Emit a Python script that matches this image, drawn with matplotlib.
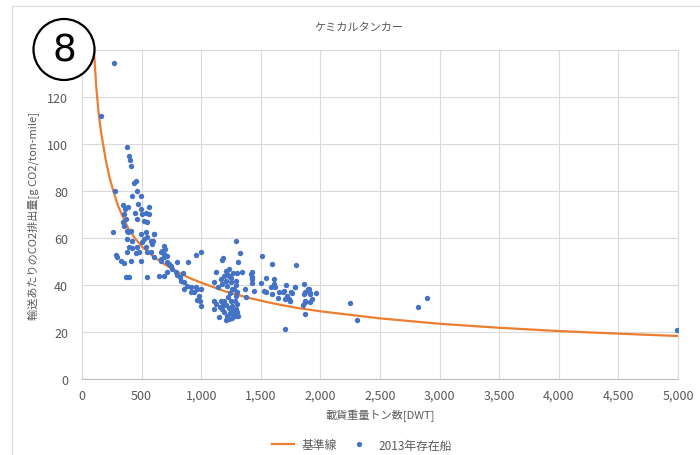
import matplotlib
matplotlib.use("Agg")
import matplotlib.pyplot as plt
import matplotlib.ticker as mticker
import matplotlib.transforms as mtransforms
from matplotlib.patches import Circle
from matplotlib.lines import Line2D

plt.rcParams['font.family'] = ['Noto Sans CJK JP', 'DejaVu Sans']

# ---------------------------
# Data
# ---------------------------
title = "ケミカルタンカー"
x_label = "載貨重量トン数[DWT]"
y_label = "輸送あたりのCO2排出量[g CO2/ton-mile]"
line_name = "基準線"
scatter_name = "2013年存在船"

# baseline curve
base_dwt = [90, 100, 120, 140, 160, 180, 200, 230, 260, 300, 350, 400, 450, 500,
            600, 700, 800, 900, 1000, 1200, 1400, 1600, 1800, 2000, 2500, 3000,
            3500, 4000, 4500, 5000]
base_co2 = [150, 140, 124, 113, 105, 99, 93, 86, 80.5, 74, 68, 63, 59.5, 56.5,
            52, 48.6, 45.6, 43, 41, 37.3, 34.5, 32.2, 30.3, 28.8, 25.8, 23.5,
            21.8, 20.4, 19.3, 18.3]

# ships existing in 2013
ship_dwt = [268, 156, 273,
            379, 393, 402, 407, 435, 449, 416, 463, 491,
            346, 360, 387, 471, 491, 561, 443, 505, 533, 351, 366, 561, 463, 519,
            547, 346, 351, 374, 387, 407, 491, 533, 547, 603, 259, 379, 421, 505,
            519, 575, 588, 397, 421, 463, 533, 547, 379, 477, 282, 295, 324, 407,
            491, 603, 659, 659, 686, 366, 393, 547, 354, 452,
            605, 592, 684, 695, 675, 689, 711, 661, 711, 731, 745, 711, 647, 684,
            759, 787, 795, 801, 823, 851, 828, 856, 856, 884, 912, 918, 940, 968,
            996, 982, 990, 1002, 893, 954, 1002, 577, 954, 968,
            1295, 1325, 1308, 1506, 1590, 1797, 1171, 1186, 1127, 1205, 1219, 1191,
            1233, 1303, 1345, 1423, 1423, 1107, 1163, 1205, 1247, 1289, 1177, 1289,
            1144, 1261, 1303, 1289, 1367, 1428, 1498, 1540, 1609, 1609, 1582, 1540,
            1651, 1685, 1713, 1791, 1763, 1646, 1707, 1741, 1721, 1860, 1897, 1916,
            1964, 1860, 1874, 1852, 1874, 1931, 1701,
            1107, 1127, 1163, 1107, 1191, 1205, 1233, 1261, 1289, 1311, 1191, 1219,
            1149, 1233, 1261, 1211, 1177, 1283, 1303, 1372, 1442,
            1414, 1428, 1526, 1596, 1623, 1693, 1735, 1749, 1757, 1785, 1874, 1902,
            1911, 1874, 1916, 2251, 2307, 2822, 2893, 4994, 1289,
            1240, 1270, 1250, 1225, 1280, 1255, 1300, 1180, 1160, 1245,
            1250, 1270, 1230, 1215, 1275]
ship_co2 = [134.5, 111.8, 80,
            98.6, 95.1, 93.1, 90.6, 83.6, 84.2, 77.9, 80, 77.9,
            73.9, 72.2, 73, 74.4, 72.2, 73, 70.8, 70.1, 70.8, 70.1, 68, 70.1, 68, 67.3,
            66.9, 66.6, 65.2, 63.1, 62.4, 63.1, 61.7, 62.4, 60.3, 61.7, 62.4, 59.5, 58.8, 58.1,
            59.5, 58.8, 57.4, 56, 55.6, 56, 56, 53.9, 53.9, 53.9, 52.8, 51.8, 50.3, 50.3,
            50.3, 51.8, 53.9, 51.1, 51.8, 43.3, 43.3, 43.3, 49.4, 53.6,
            61.7, 58.8, 56.7, 55.3, 54.6, 53.2, 52.2, 50.3, 49.7, 48.9, 48, 45.7, 43.7, 43.7,
            46.8, 45.7, 49.9, 44.3, 43.3, 45.1, 41.9, 41.2, 38.3, 39.7, 39.1, 37.2, 36.9, 38.3,
            38.3, 35.5, 33.4, 31, 49.9, 52.8, 54.2, 53.9, 39.1, 33.8,
            58.6, 53.5, 49.7, 52.5, 48.9, 48.6, 50.8, 51.4, 45.4, 46.1, 44.7, 44,
            44, 45, 45.4, 45.4, 43.6, 41.4, 42.6, 41.9, 41.2, 41.9, 40.5, 40,
            39.1, 38.1, 36.9, 35.5, 38.1, 40.8, 40.8, 42.9, 42.6, 40.5, 39.1, 37.2,
            37.2, 37.2, 40, 39.1, 36.7, 34.4, 34.1, 33.4, 35.5, 40.5, 38.3, 36.7,
            36.7, 36.2, 33.4, 31.6, 27.8, 34.1, 21.1,
            33.4, 32, 33, 29.6, 33.4, 31.3, 30.2, 31, 29.9, 26.8, 28.5, 27,
            26.4, 25.6, 27.8, 24.9, 29.9, 33.4, 32, 34.8, 37.6,
            44.7, 42.6, 37.6, 36.2, 39.1, 37.6, 34.1, 33.4, 36.9, 39.2, 36.9, 38.3,
            36.2, 32.7, 32.7, 32.5, 25.2, 30.6, 34.5, 20.7, 26.8,
            28, 29, 33, 35, 27.5, 25.8, 28.5, 31.5, 30.5, 36.5,
            43, 45, 47, 39.5, 38.5]

x_ticks = list(range(0, 5001, 500))
y_ticks = list(range(0, 121, 20))

# ---------------------------
# Plot
# ---------------------------
text_gray = "#595959"
grid_gray = "#D9D9D9"
orange = "#ED7D31"
blue = "#4472C4"

fig = plt.figure(figsize=(7, 4.56), dpi=100)
ax = fig.add_axes([82 / 700, 1 - 380 / 456, (678 - 82) / 700, (380 - 51) / 456])

ax.plot(base_dwt, base_co2, color=orange, linewidth=1.6, zorder=3)
ax.scatter(ship_dwt, ship_co2, s=15, color=blue, linewidths=0, zorder=4)

ax.set_xlim(0, 5000)
ax.set_ylim(0, 140)
ax.set_xticks(x_ticks)
ax.set_yticks(y_ticks)
ax.xaxis.set_major_formatter(mticker.FuncFormatter(lambda v, p: f"{int(v):,}"))
ax.tick_params(length=0, labelsize=9, labelcolor=text_gray)
ax.tick_params(axis="x", pad=7)
ax.tick_params(axis="y", pad=10)
ax.grid(True, color=grid_gray, linewidth=0.8)
ax.set_axisbelow(True)
for side in ["top", "right", "left"]:
    ax.spines[side].set_color(grid_gray)
    ax.spines[side].set_linewidth(0.8)
ax.spines["bottom"].set_color("#BFBFBF")
ax.spines["bottom"].set_linewidth(0.8)

ax.set_xlabel(x_label, fontsize=8, color=text_gray, labelpad=5)
ax.set_ylabel(y_label, fontsize=8, color=text_gray, labelpad=5)
fig.text(359 / 700, 1 - 28 / 456, title, ha="center", va="center",
         fontsize=8, color=text_gray)

# legend below the chart
handles = [Line2D([0], [0], color=orange, linewidth=1.6),
           Line2D([0], [0], marker="o", linestyle="none", markersize=3.8,
                  markerfacecolor=blue, markeredgewidth=0)]
fig.legend(handles, [line_name, scatter_name], loc="center",
           bbox_to_anchor=(362 / 700, 1 - 446 / 456), ncol=2, frameon=False,
           fontsize=8.5, labelcolor=text_gray, handlelength=1.8, handletextpad=0.7,
           columnspacing=1.0)

# chart frame
fig.add_artist(Line2D([12 / 700, 12 / 700], [0, 1 - 7 / 456], color=grid_gray,
                      linewidth=0.8, transform=fig.transFigure))
fig.add_artist(Line2D([12 / 700, 1], [1 - 7 / 456, 1 - 7 / 456], color=grid_gray,
                      linewidth=0.8, transform=fig.transFigure))

# circled number
ident = mtransforms.IdentityTransform()
fig.add_artist(Circle((64, 456 - 50.5), 30.5, transform=ident, facecolor="white",
                      edgecolor="black", linewidth=1.6, zorder=10))
fig.text(64 / 700, 1 - 51 / 456, "8", ha="center", va="center", fontsize=27,
         color="black", zorder=11, family="DejaVu Sans")

fig.savefig("out.png", dpi=100)
